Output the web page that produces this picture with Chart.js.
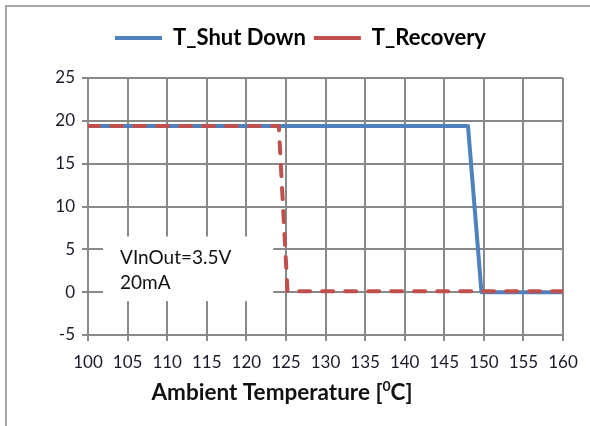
<!DOCTYPE html>
<html><head><meta charset="utf-8">
<script src="https://cdn.jsdelivr.net/npm/chart.js@4.4.0/dist/chart.umd.min.js"></script>
<style>
html,body{margin:0;padding:0;background:#fff;}
#wrap{position:relative;width:590px;height:426px;overflow:hidden;}
#frame{position:absolute;left:5px;top:5px;width:620px;height:460px;border-left:2px solid #a6a6a6;border-top:2px solid #a6a6a6;}
canvas{position:absolute;left:0;top:0;}
</style></head><body>
<div id="wrap"><div id="frame"></div><canvas id="c" width="590" height="426"></canvas></div>
<script>
// ---- data ----
const seriesNames = ['T_Shut Down', 'T_Recovery'];
const shutTemps  = [100, 105, 110, 115, 120, 125, 130, 135, 140, 145, 148, 149.7, 150, 155, 160];
const shutValues = [19.4, 19.4, 19.4, 19.4, 19.4, 19.4, 19.4, 19.4, 19.4, 19.4, 19.4, 0, 0, 0, 0];
const recTemps   = [100, 105, 110, 115, 120, 124.1, 125.2, 130, 135, 140, 145, 150, 155, 160];
const recValues  = [19.4, 19.4, 19.4, 19.4, 19.4, 19.4, 0.1, 0.1, 0.1, 0.1, 0.1, 0.1, 0.1, 0.1];
const xTickMin = 100, xTickMax = 160, xTickStep = 5;
const yTickMin = -5, yTickMax = 25, yTickStep = 5;
const noteLines = ['VInOut=3.5V', '20mA'];
const xTitleMain = 'Ambient Temperature [';
const xTitleSup = '0';
const xTitleEnd = 'C]';
// note box extent in data units
const noteBox = {x0: 101.9, x1: 123.4, y0: 6.5, y1: -1.05};

const pts = (xs, ys) => xs.map((x, i) => ({x: x, y: ys[i]}));
const gridColor = '#898989';
const fontFam = 'Lato, "Liberation Sans", sans-serif';

const notePlugin = {
  id: 'note',
  beforeDatasetsDraw(chart) {
    const ctx = chart.ctx, xs = chart.scales.x, ys = chart.scales.y;
    const l = xs.getPixelForValue(noteBox.x0), r = xs.getPixelForValue(noteBox.x1);
    const t = ys.getPixelForValue(noteBox.y0), b = ys.getPixelForValue(noteBox.y1);
    ctx.save();
    ctx.fillStyle = '#fff';
    ctx.fillRect(l, t, r - l, b - t);
    ctx.fillStyle = '#111';
    ctx.font = '19px ' + fontFam;
    ctx.textBaseline = 'alphabetic';
    ctx.fillText(noteLines[0], l + 17, t + 28);
    ctx.fillText(noteLines[1], l + 17, t + 53);
    ctx.restore();
  }
};
const xTitlePlugin = {
  id: 'xtitle',
  afterDraw(chart) {
    const ctx = chart.ctx, a = chart.chartArea;
    ctx.save();
    ctx.fillStyle = '#111';
    const big = 'bold 22.5px ' + fontFam, small = 'bold 14px ' + fontFam;
    ctx.font = big; const w1 = ctx.measureText(xTitleMain).width; const w3 = ctx.measureText(xTitleEnd).width;
    ctx.font = small; const w2 = ctx.measureText(xTitleSup).width;
    const total = w1 + w2 + w3;
    let x = a.left + 194 - total / 2;
    const base = a.bottom + 65;
    ctx.textBaseline = 'alphabetic';
    ctx.font = big; ctx.fillText(xTitleMain, x, base); x += w1;
    ctx.font = small; ctx.fillText(xTitleSup, x, base - 9); x += w2;
    ctx.font = big; ctx.fillText(xTitleEnd, x, base);
    ctx.restore();
  }
};
const legendShift = {
  id: 'legendShift',
  afterLayout(chart) {
    const lg = chart.legend;
    if (lg) { lg.top -= 19; lg.bottom -= 19; lg.left += 19; lg.right += 19; }
  }
};

new Chart(document.getElementById('c'), {
  type: 'line',
  data: {
    datasets: [
      {label: seriesNames[0], data: pts(shutTemps, shutValues), borderColor: '#4F81BD', backgroundColor: '#4F81BD',
       borderWidth: 4, pointRadius: 0, pointStyle: 'line', tension: 0, order: 2, borderCapStyle: 'round', borderJoinStyle: 'round'},
      {label: seriesNames[1], data: pts(recTemps, recValues), borderColor: '#C0504D', backgroundColor: '#C0504D',
       borderWidth: 4, borderDash: [11, 12], borderCapStyle: 'round', borderJoinStyle: 'round', pointRadius: 0, pointStyle: 'line', tension: 0, order: 1}
    ]
  },
  options: {
    responsive: false, animation: false, devicePixelRatio: 1,
    layout: {padding: {top: 0, left: 0, right: 27, bottom: 0}},
    plugins: {
      legend: {position: 'top', align: 'center',
        labels: {usePointStyle: true, pointStyleWidth: 47, padding: 8, color: '#000',
          sort: (a, b) => a.datasetIndex - b.datasetIndex,
          font: {family: fontFam, size: 22, weight: 'bold'}}},
      tooltip: {enabled: false}
    },
    scales: {
      x: {type: 'linear', min: xTickMin, max: xTickMax,
        ticks: {stepSize: xTickStep, color: '#1a1a2a', font: {family: fontFam, size: 17}, padding: 11, maxRotation: 0},
        grid: {color: gridColor, lineWidth: 2, tickLength: 6, drawTicks: true},
        border: {color: gridColor, width: 2},
        afterFit(s) { s.height = 91; }
      },
      y: {min: yTickMin, max: yTickMax,
        ticks: {stepSize: yTickStep, color: '#1a1a2a', font: {family: fontFam, size: 17}, padding: 7},
        grid: {color: gridColor, lineWidth: 2, tickLength: 6},
        border: {color: gridColor, width: 2},
        afterFit(s) { s.width = 88; s.paddingTop = 78; }
      }
    }
  },
  plugins: [notePlugin, xTitlePlugin, legendShift]
});
</script>
</body></html>
